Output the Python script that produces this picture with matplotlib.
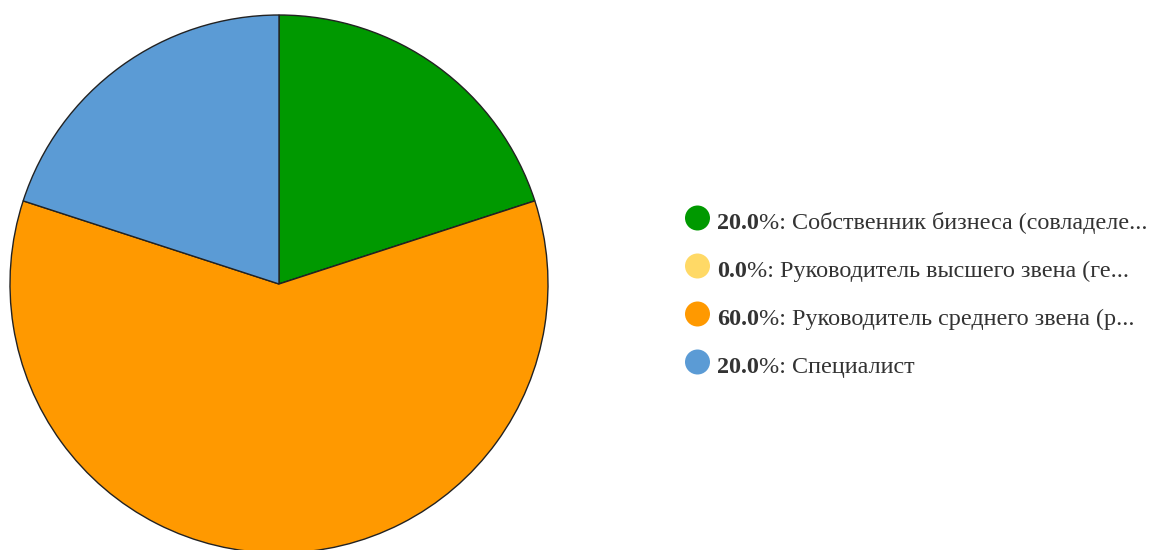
import matplotlib
matplotlib.use("Agg")
import matplotlib.pyplot as plt
from matplotlib.patches import Circle

labels = ["Собственник бизнеса (совладеле...",
          "Руководитель высшего звена (ге...",
          "Руководитель среднего звена (р...",
          "Специалист"]
values = [20.0, 0.0, 60.0, 20.0]
colors = ["#009900", "#FFD966", "#FF9900", "#5B9BD5"]

W, H = 1153, 550
fig = plt.figure(figsize=(W / 100, H / 100), dpi=100)
ax = fig.add_axes([0, 0, 1, 1])
ax.set_xlim(0, W)
ax.set_ylim(0, H)
ax.set_aspect("equal")
ax.axis("off")

ax.pie(values, colors=colors, startangle=90, counterclock=False,
       center=(279, H - 284), radius=269, frame=True,
       wedgeprops=dict(edgecolor="#222222", linewidth=1.0))
ax.set_xlim(0, W)
ax.set_ylim(0, H)
ax.axis("off")

ys = [218, 266, 314, 362]
fig.canvas.draw()
renderer = fig.canvas.get_renderer()
total = sum(values)
for lab, v, c, y in zip(labels, values, colors, ys):
    yy = H - y
    ax.add_patch(Circle((697.5, yy), 12.5, color=c, ec="none"))
    t1 = ax.text(717, yy - 11, f"{v / total * 100:.1f}", fontsize=17.4, fontweight="bold",
                 family="Liberation Serif", color="#333333", va="baseline", ha="left")
    bb = t1.get_window_extent(renderer)
    inv = ax.transData.inverted()
    x1 = inv.transform((bb.x1, bb.y0))[0]
    ax.text(x1, yy - 11, f"%: {lab}", fontsize=17.4, family="Liberation Serif",
            color="#333333", va="baseline", ha="left")

fig.savefig("out.png", dpi=100)
